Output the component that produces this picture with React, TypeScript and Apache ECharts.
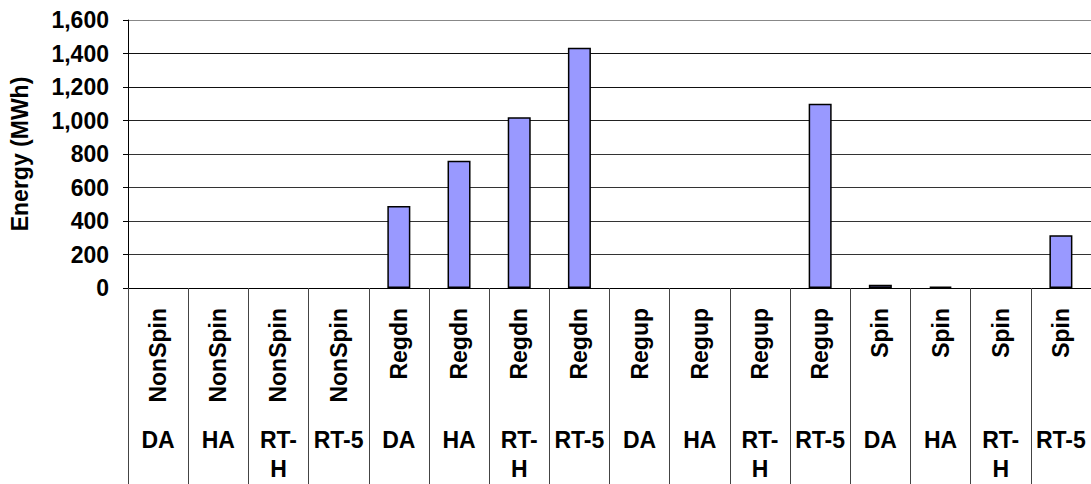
import React, { useEffect, useRef } from "react";
import * as echarts from "echarts";

const groups = ["NonSpin", "Regdn", "Regup", "Spin"];
const markets = ["DA", "HA", "RT-H", "RT-5"];
const categories = groups.flatMap((g) => markets.map((m) => `${g}|${m}`));
const energy = [0, 0, 0, 0, 490, 760, 1020, 1435, 0, 0, 0, 1100, 20, 8, 0, 315];
const yMin = 0;
const yMax = 1600;
const yInterval = 200;
const yTitle = "Energy (MWh)";

const FONT = "'Liberation Sans', Arial, Helvetica, sans-serif";

export default function App() {
  const ref = useRef<HTMLDivElement>(null);
  useEffect(() => {
    document.body.style.margin = "0";
    const chart = echarts.init(ref.current!, null, { renderer: "svg" });
    const labelBase = {
      fontFamily: FONT,
      fontWeight: "bold" as const,
      fontSize: 23,
      color: "#000",
    };
    const gridBox = { left: 128, top: 20, width: 966, height: 268 };
    chart.setOption({
      animation: false,
      backgroundColor: "#fff",
      grid: [
        { ...gridBox, containLabel: false },
        { ...gridBox, containLabel: false },
      ],
      xAxis: [
        {
          type: "category",
          gridIndex: 0,
          data: categories,
          position: "bottom",
          axisLine: { show: true, lineStyle: { color: "#000", width: 1 } },
          axisTick: {
            show: true,
            interval: 0,
            length: 196,
            lineStyle: { color: "#444", width: 1 },
          },
          axisLabel: {
            ...labelBase,
            interval: 0,
            rotate: 90,
            margin: 20,
            formatter: (v: string) => v.split("|")[0],
          },
          splitLine: { show: false },
        },
        {
          type: "category",
          gridIndex: 1,
          data: categories,
          position: "bottom",
          axisLine: { show: false },
          axisTick: { show: false },
          axisLabel: {
            ...labelBase,
            interval: 0,
            margin: 137,
            lineHeight: 29,
            align: "center",
            formatter: (v: string) => v.split("|")[1].replace("RT-H", "RT-\nH"),
          },
          splitLine: { show: false },
        },
      ],
      yAxis: [
        {
          type: "value",
          gridIndex: 0,
          min: yMin,
          max: yMax,
          interval: yInterval,
          name: yTitle,
          nameLocation: "middle",
          nameGap: 97,
          nameRotate: 90,
          nameTextStyle: { ...labelBase },
          axisLine: { show: true, lineStyle: { color: "#000", width: 1 } },
          axisTick: { show: true, inside: false, length: 5, lineStyle: { color: "#000" } },
          axisLabel: {
            ...labelBase,
            margin: 19,
            formatter: (v: number) => v.toLocaleString("en-US"),
          },
          splitLine: {
            show: true,
            lineStyle: {
              color: ["#000", "#333", "#333", "#333", "#333", "#222", "#111", "#111", "#888"],
              width: 1,
            },
          },
        },
        {
          type: "value",
          gridIndex: 1,
          min: yMin,
          max: yMax,
          show: false,
        },
      ],
      series: [
        {
          type: "bar",
          xAxisIndex: 0,
          yAxisIndex: 0,
          data: energy.map((v) => (v === 0 ? "-" : v)),
          barWidth: 23,
          itemStyle: { color: "#9999FF", borderColor: "#000", borderWidth: 1.5 },
        },
      ],
    });
    return () => chart.dispose();
  }, []);
  return <div ref={ref} style={{ width: 1091, height: 484 }} />;
}
